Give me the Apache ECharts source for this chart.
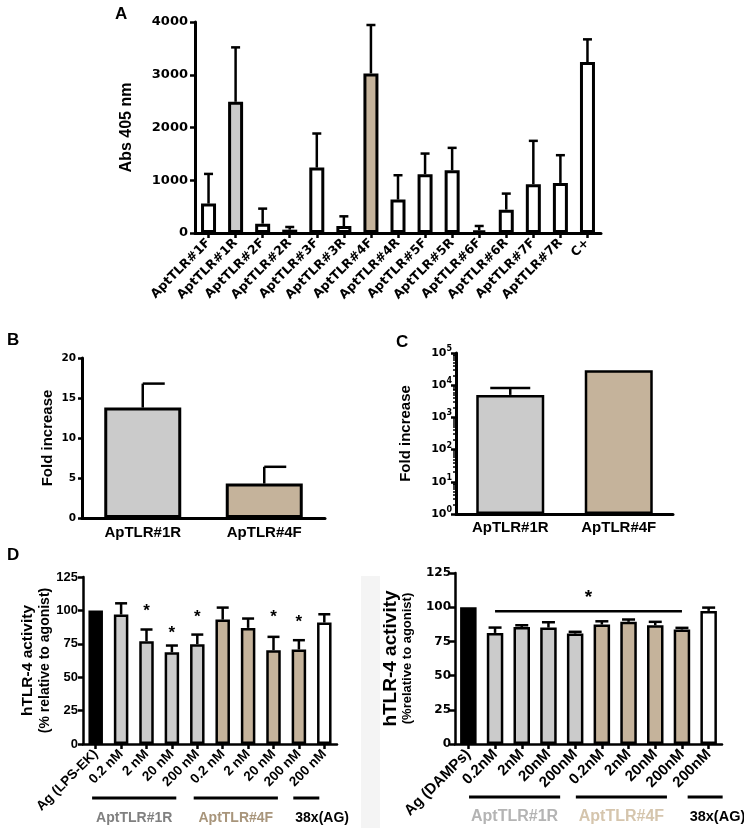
<!DOCTYPE html>
<html><head><meta charset="utf-8">
<script src="https://cdn.jsdelivr.net/npm/echarts@6/dist/echarts.min.js"></script>
<style>html,body{margin:0;padding:0;background:#fff}#c{width:744px;height:828px}</style>
</head><body><div id="c"></div>
<script>
// ---------------- DATA ----------------
const A_CATEGORIES = ['AptTLR#1F','AptTLR#1R','AptTLR#2F','AptTLR#2R','AptTLR#3F','AptTLR#3R','AptTLR#4F','AptTLR#4R','AptTLR#5F','AptTLR#5R','AptTLR#6F','AptTLR#6R','AptTLR#7F','AptTLR#7R','C+'];
const A_MEAN    = [557, 2487, 177, 63, 1240, 133, 3025, 633, 1114, 1190, 51, 443, 924, 949, 3240];
const A_ERR_TOP = [1120, 3519, 462, 114, 1886, 316, 3943, 1095, 1506, 1614, 133, 747, 1747, 1475, 3671];

const B_CATEGORIES = ['ApTLR#1R', 'ApTLR#4F'];
const B_MEAN    = [13.8, 4.3];
const B_ERR_TOP = [16.8, 6.4];

const C_CATEGORIES = ['ApTLR#1R', 'ApTLR#4F'];
const C_MEAN    = [5000, 29000];
const C_ERR_TOP = [8200, null];

const DL_CATEGORIES = ['Ag (LPS-EK)','0.2 nM','2 nM','20 nM','200 nM','0.2 nM','2 nM','20 nM','200 nM','200 nM'];
const DL_GROUP   = ['Ag','1R','1R','1R','1R','4F','4F','4F','4F','38x'];
const DL_MEAN    = [100, 96.9, 76.9, 68.7, 74.7, 93.1, 86.9, 70.2, 70.7, 90.9];
const DL_ERR_TOP = [null, 105.3, 85.7, 73.7, 81.9, 102.1, 93.9, 80.2, 77.7, 97.1];
const DL_STAR    = [null, null, 102.5, 86, 98, null, null, 98, 94, null];

const DR_CATEGORIES = ['Ag (DAMPs)','0.2nM','2nM','20nM','200nM','0.2nM','2nM','20nM','200nM','200nM'];
const DR_GROUP   = ['Ag','1R','1R','1R','1R','4F','4F','4F','4F','38x'];
const DR_MEAN    = [100, 81.2, 85.6, 85.1, 80.7, 87.3, 89.3, 86.8, 83.7, 97.3];
const DR_ERR_TOP = [null, 85.1, 86.8, 89.0, 82.0, 89.7, 91.0, 89.3, 84.9, 99.7];
const DR_SIG_SPAN = [1, 8];
const DR_SIG_LEVEL = 97;

const D_GROUP_KEYS   = ['1R', '4F', '38x'];
const D_GROUP_LABELS = ['AptTLR#1R', 'AptTLR#4F', '38x(AG)'];

// ---------------- STYLE ----------------
const LIB = '"Liberation Sans", Arial, sans-serif';
const DJ = '"DejaVu Sans", sans-serif';
const GRAY = '#cbcbcb', TAN = '#c5b39b', WHITE = '#ffffff', BLACK = '#000000';
const A_FILL = {'AptTLR#1R': GRAY, 'AptTLR#4F': TAN};
const D_FILL = {'Ag': BLACK, '1R': GRAY, '4F': TAN, '38x': WHITE};

const chart = echarts.init(document.getElementById('c'), null, {renderer: 'canvas'});

function lineStyle(w) { return {color: '#000', width: w}; }
function plain(v) { return String(v); }

function valueAxis(gi, o) {
  return Object.assign({
    gridIndex: gi, type: 'value', splitLine: {show: false},
    axisLine: {show: true, onZero: false, lineStyle: lineStyle(o.lw)},
    axisTick: {show: true, length: o.tick || 5, lineStyle: lineStyle(o.tw || 2.5)},
    axisLabel: {color: '#000', fontFamily: o.font, fontWeight: 'bold', fontSize: o.fs, margin: o.margin, formatter: plain},
    nameLocation: 'middle', nameGap: o.nameGap,
    nameTextStyle: o.nameStyle
  }, o.extra || {});
}
function catAxis(gi, data, o) {
  return {
    gridIndex: gi, type: 'category', data: data,
    axisLine: {show: true, onZero: false, lineStyle: lineStyle(o.lw)},
    axisTick: {show: o.ticks, alignWithLabel: true, length: 5, lineStyle: lineStyle(2.5)},
    axisLabel: {interval: 0, rotate: o.rotate || 0, color: '#000', fontFamily: o.font, fontWeight: 'bold', fontSize: o.fs, margin: o.margin}
  };
}
function barSeries(i, values, colors, bw, border) {
  return {
    type: 'bar', xAxisIndex: i, yAxisIndex: i, barWidth: bw, silent: true, z: 2,
    data: values.map((v, k) => ({value: v, itemStyle: {color: colors[k]}})),
    itemStyle: {borderColor: '#000', borderWidth: border}
  };
}
function errSeries(i, means, tops, capW, lw, mode) {
  return {
    type: 'custom', xAxisIndex: i, yAxisIndex: i, z: 3, silent: true,
    encode: {x: 0, y: [1, 2]},
    data: means.map((m, k) => tops[k] == null ? null : [k, m, tops[k]]).filter(d => d),
    renderItem: function (params, api) {
      const p0 = api.coord([api.value(0), api.value(1)]);
      const p1 = api.coord([api.value(0), api.value(2)]);
      const x = p0[0];
      const c1 = mode === 'right' ? x : x - capW / 2;
      const c2 = mode === 'right' ? x + capW : x + capW / 2;
      return {type: 'group', children: [
        {type: 'line', shape: {x1: x, y1: p0[1], x2: x, y2: p1[1]}, style: {stroke: '#000', lineWidth: lw}},
        {type: 'line', shape: {x1: c1, y1: p1[1], x2: c2, y2: p1[1]}, style: {stroke: '#000', lineWidth: lw}}
      ]};
    }
  };
}

const option = {
  animation: false,
  backgroundColor: '#fff',
  grid: [
    {left: 195, top: 22, width: 406, height: 211, containLabel: false, outerBoundsMode: 'none'},
    {left: 82, top: 358, width: 243, height: 160, containLabel: false, outerBoundsMode: 'none'},
    {left: 456, top: 353, width: 217, height: 161, containLabel: false, outerBoundsMode: 'none'},
    {left: 83, top: 577, width: 254, height: 167, containLabel: false, outerBoundsMode: 'none'},
    {left: 455, top: 573, width: 267, height: 171, containLabel: false, outerBoundsMode: 'none'}
  ],
  xAxis: [
    catAxis(0, A_CATEGORIES, {lw: 3, ticks: true, rotate: 45, font: DJ, fs: 12.5, margin: 8}),
    catAxis(1, B_CATEGORIES, {lw: 3, ticks: false, font: LIB, fs: 15, margin: 7}),
    catAxis(2, C_CATEGORIES, {lw: 3, ticks: false, font: LIB, fs: 15, margin: 6}),
    catAxis(3, DL_CATEGORIES, {lw: 2.5, ticks: true, rotate: 45, font: LIB, fs: 13.5, margin: 8}),
    catAxis(4, DR_CATEGORIES, {lw: 2.5, ticks: true, rotate: 45, font: LIB, fs: 15, margin: 8})
  ],
  yAxis: [
    valueAxis(0, {lw: 3, font: DJ, fs: 13, margin: 7, nameGap: 60,
      nameStyle: {fontFamily: LIB, fontWeight: 'bold', fontSize: 16, color: '#000'},
      extra: {min: 0, max: 4000, interval: 1000, name: 'Abs 405 nm'}}),
    valueAxis(1, {lw: 3, tick: 4, font: DJ, fs: 10.5, margin: 6, nameGap: 27,
      nameStyle: {fontFamily: LIB, fontWeight: 'bold', fontSize: 15, color: '#000'},
      extra: {min: 0, max: 20, interval: 5, name: 'Fold increase'}}),
    valueAxis(2, {lw: 3, font: DJ, fs: 11, margin: 4, nameGap: 43,
      nameStyle: {fontFamily: LIB, fontWeight: 'bold', fontSize: 15, color: '#000'},
      extra: {type: 'log', logBase: 10, min: 1, max: 100000, name: 'Fold increase',
        minorTick: {show: true, splitNumber: 9, length: 3, lineStyle: {color: '#000', width: 1.5}},
        axisLabel: {color: '#000', margin: 4,
          formatter: function (v) { return '{b|10}{s|' + Math.round(Math.log10(v)) + '}'; },
          rich: {b: {fontFamily: DJ, fontWeight: 'bold', fontSize: 11, color: '#000'},
                 s: {fontFamily: DJ, fontWeight: 'bold', fontSize: 8, color: '#000', padding: [0, 0, 8, 0]}}}}}),
    valueAxis(3, {lw: 2.5, font: LIB, fs: 13, margin: 5, nameGap: 25,
      nameStyle: {color: '#000', rich: {
        a: {fontFamily: LIB, fontWeight: 'bold', fontSize: 15.5, lineHeight: 19, color: '#000'},
        b: {fontFamily: LIB, fontWeight: 'bold', fontSize: 14, lineHeight: 17, color: '#000'}}},
      extra: {min: 0, max: 125, interval: 25, name: '{a|hTLR-4 activity}\n{b|(% relative to agonist)}'}}),
    valueAxis(4, {lw: 2.5, font: DJ, fs: 12, margin: 4, nameGap: 40,
      nameStyle: {color: '#000', rich: {
        a: {fontFamily: LIB, fontWeight: 'bold', fontSize: 19, lineHeight: 18, color: '#000'},
        b: {fontFamily: LIB, fontWeight: 'bold', fontSize: 13, lineHeight: 15, color: '#000'}}},
      extra: {min: 0, max: 125, interval: 25, name: '{a|hTLR-4 activity}\n{b|(%relative to agonist)}'}})
  ],
  series: [
    barSeries(0, A_MEAN, A_CATEGORIES.map(c => A_FILL[c] || WHITE), 15, 3),
    errSeries(0, A_MEAN, A_ERR_TOP, 9, 2.5, 'center'),
    barSeries(1, B_MEAN, [GRAY, TAN], 77, 3),
    errSeries(1, B_MEAN, B_ERR_TOP, 22, 2.5, 'right'),
    barSeries(2, C_MEAN, [GRAY, TAN], 68, 2.5),
    errSeries(2, C_MEAN, C_ERR_TOP, 40, 2.5, 'center'),
    barSeries(3, DL_MEAN, DL_GROUP.map(g => D_FILL[g]), 14.5, 2.5),
    errSeries(3, DL_MEAN, DL_ERR_TOP, 12, 2.5, 'center'),
    {
      type: 'custom', xAxisIndex: 3, yAxisIndex: 3, z: 4, silent: true,
      encode: {x: 0, y: 1},
      data: DL_STAR.map((s, k) => s == null ? null : [k, s]).filter(d => d),
      renderItem: function (params, api) {
        const p = api.coord([api.value(0), api.value(1)]);
        return {type: 'text', x: p[0], y: p[1] + 4, style: {text: '*', font: 'bold 17px ' + LIB, fill: '#000', align: 'center', verticalAlign: 'middle'}};
      }
    },
    barSeries(4, DR_MEAN, DR_GROUP.map(g => D_FILL[g]), 16.5, 2.5),
    errSeries(4, DR_MEAN, DR_ERR_TOP, 13, 2.5, 'center'),
    {
      type: 'custom', xAxisIndex: 4, yAxisIndex: 4, z: 4, silent: true,
      encode: {x: [0, 1], y: 2},
      data: [[DR_SIG_SPAN[0], DR_SIG_SPAN[1], DR_SIG_LEVEL]],
      renderItem: function (params, api) {
        const p1 = api.coord([api.value(0), api.value(2)]);
        const p2 = api.coord([api.value(1), api.value(2)]);
        return {type: 'group', children: [
          {type: 'line', shape: {x1: p1[0], y1: p1[1], x2: p2[0], y2: p2[1]}, style: {stroke: '#000', lineWidth: 2.5}},
          {type: 'text', x: (p1[0] + p2[0]) / 2, y: p1[1] - 14, style: {text: '*', font: 'bold 19px ' + LIB, fill: '#000', align: 'center', verticalAlign: 'middle'}}
        ]};
      }
    }
  ]
};
chart.setOption(option);

// group brackets under panel D, positioned from the category axes
function groupGraphics(axisIndex, groups, cfg) {
  const out = [];
  D_GROUP_KEYS.forEach((key, gi) => {
    const idx = groups.map((g, k) => g === key ? k : -1).filter(k => k >= 0);
    const s = idx[0], e = idx[idx.length - 1];
    const cs = chart.convertToPixel({xAxisIndex: axisIndex}, s);
    const ce = chart.convertToPixel({xAxisIndex: axisIndex}, e);
    const single = s === e;
    const x1 = cs + (single ? cfg.single[0] : cfg.multi[0]);
    const x2 = ce + (single ? cfg.single[1] : cfg.multi[1]);
    out.push({type: 'line', shape: {x1: x1, y1: cfg.lineY, x2: x2, y2: cfg.lineY}, style: {stroke: '#000', lineWidth: 3}, silent: true});
    out.push({type: 'text', x: single ? x1 + 2 : (x1 + x2) / 2, y: cfg.textY,
      style: {text: D_GROUP_LABELS[gi], font: 'bold ' + (single ? cfg.fsSingle : cfg.fs) + 'px ' + LIB, fill: cfg.colors[gi], align: single ? 'left' : 'center', verticalAlign: 'middle'}, silent: true});
  });
  return out;
}

const graphics = [
  {type: 'rect', shape: {x: 361, y: 576, width: 19, height: 252}, style: {fill: '#f4f4f4'}, silent: true, z: -1},
  {type: 'text', x: 115, y: 6, style: {text: 'A', font: 'bold 17px ' + LIB, fill: '#000'}, silent: true},
  {type: 'text', x: 7, y: 332, style: {text: 'B', font: 'bold 17px ' + LIB, fill: '#000'}, silent: true},
  {type: 'text', x: 396, y: 334, style: {text: 'C', font: 'bold 17px ' + LIB, fill: '#000'}, silent: true},
  {type: 'text', x: 7, y: 547, style: {text: 'D', font: 'bold 17px ' + LIB, fill: '#000'}, silent: true}
].concat(
  groupGraphics(3, DL_GROUP, {multi: [-29, -21], single: [-31, -5], lineY: 798, textY: 818, fs: 14, fsSingle: 14, colors: ['#808080', '#a8957b', '#000']}),
  groupGraphics(4, DR_GROUP, {multi: [-26, -15], single: [-21, 14], lineY: 797, textY: 817, fs: 16, fsSingle: 14.5, colors: ['#b4b4b4', '#d5c5ad', '#000']})
);
chart.setOption({graphic: graphics});
</script></body></html>
